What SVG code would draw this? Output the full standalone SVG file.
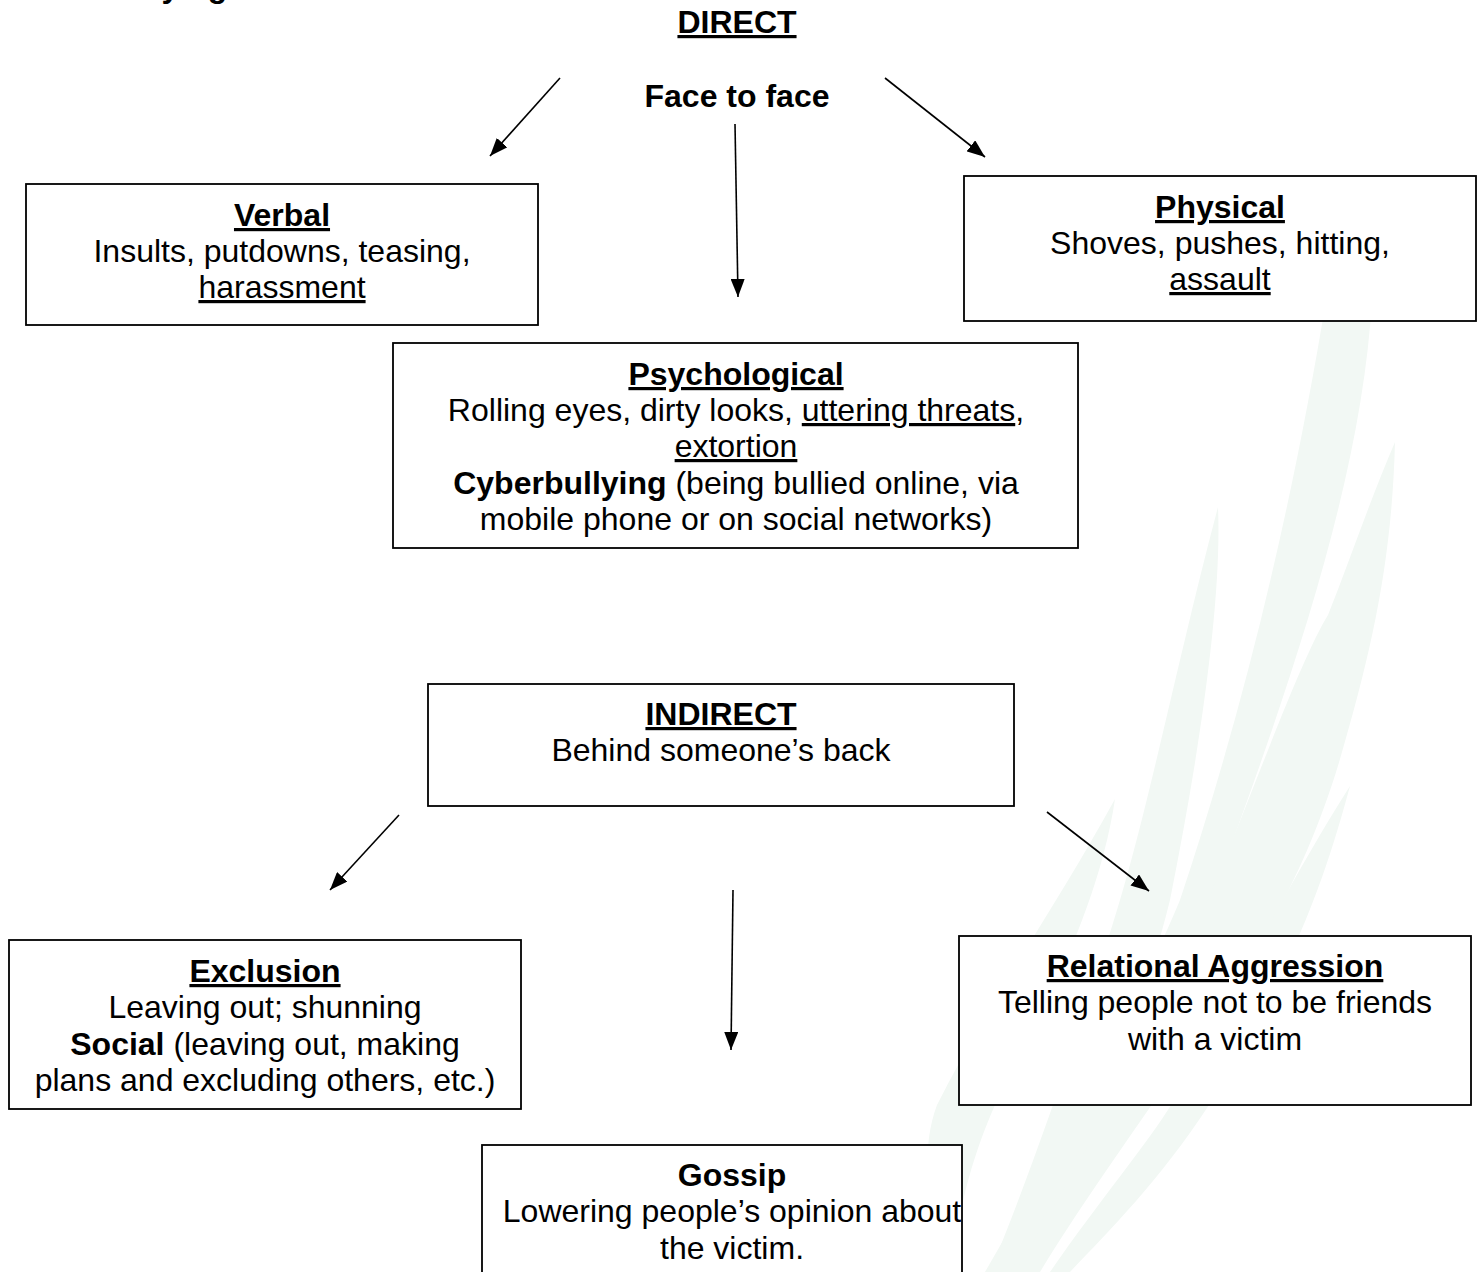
<svg xmlns="http://www.w3.org/2000/svg" width="1482" height="1272" viewBox="0 0 1482 1272">
<style>
text{font-family:"Liberation Sans",Arial,sans-serif;font-size:32px;fill:#000;text-anchor:middle}
.b{font-weight:bold}
.u{text-decoration:underline}
.box{fill:#fff;stroke:#000;stroke-width:1.8}
.con{stroke:#000;stroke-width:1.6;fill:none;marker-end:url(#ah)}
.wm{fill:#f2f8f4}
</style>
<defs>
<marker id="ah" markerUnits="userSpaceOnUse" markerWidth="18" markerHeight="14" viewBox="0 0 18 14" refX="18" refY="7" orient="auto">
<path d="M0,0 L18,7 L0,14 Z" fill="#000"/>
</marker>
</defs>
<rect width="1482" height="1272" fill="#fff"/>
<g id="watermark">
<path class="wm" d="M1326,300 L1372,300 C1362,470 1300,660 1211,900 C1150,1050 1080,1170 1020,1272 L985,1272 C1050,1160 1130,1020 1180,900 C1240,720 1290,520 1326,300 Z"/>
<path class="wm" d="M1395,442 C1392,560 1372,650 1340,759 C1310,860 1270,930 1230,990 C1150,1110 1090,1190 1040,1272 L1015,1272 C1070,1180 1150,1040 1208,900 C1250,800 1300,660 1328,615 C1350,560 1370,500 1395,442 Z"/>
<path class="wm" d="M1218,507 C1222,600 1200,750 1170,900 C1130,1060 1070,1180 1010,1272 L990,1272 C1040,1150 1090,1000 1120,900 C1150,800 1180,650 1218,507 Z"/>
<path class="wm" d="M1350,786 C1330,860 1300,960 1209,1105 C1160,1180 1110,1230 1070,1272 L1050,1272 C1100,1200 1150,1140 1171,1105 C1230,1000 1290,880 1350,786 Z"/>
<path class="wm" d="M1115,799 C1100,900 1050,1000 995,1105 C975,1150 960,1200 950,1272 L930,1272 C930,1200 920,1150 937,1105 C990,1000 1060,900 1115,799 Z"/>
</g>
<g id="title">
<text class="b" x="101" y="-3" style="text-anchor:start">Bullying</text>
<text class="b u" x="737" y="33">DIRECT</text>
<text class="b" x="737" y="107">Face to face</text>
</g>
<g id="connectors">
<line class="con" x1="560" y1="78" x2="490" y2="156"/>
<line class="con" x1="735" y1="124" x2="738" y2="297"/>
<line class="con" x1="885" y1="78" x2="985" y2="157"/>
<line class="con" x1="399" y1="815" x2="330" y2="890"/>
<line class="con" x1="733" y1="890" x2="731" y2="1050"/>
<line class="con" x1="1047" y1="812" x2="1149" y2="891"/>
</g>
<g id="verbal">
<rect class="box" x="26" y="184" width="512" height="141"/>
<text class="b u" x="282" y="226">Verbal</text>
<text x="282" y="262">Insults, putdowns, teasing,</text>
<text class="u" x="282" y="298">harassment</text>
</g>
<g id="physical">
<rect class="box" x="964" y="176" width="512" height="145"/>
<text class="b u" x="1220" y="218">Physical</text>
<text x="1220" y="254">Shoves, pushes, hitting,</text>
<text class="u" x="1220" y="290">assault</text>
</g>
<g id="psychological">
<rect class="box" x="393" y="343" width="685" height="205"/>
<text class="b u" x="736" y="385">Psychological</text>
<text x="736" y="421">Rolling eyes, dirty looks, <tspan class="u">uttering threats</tspan>,</text>
<text class="u" x="736" y="457">extortion</text>
<text x="736" y="494"><tspan class="b">Cyberbullying</tspan> (being bullied online, via</text>
<text x="736" y="530">mobile phone or on social networks)</text>
</g>
<g id="indirect">
<rect class="box" x="428" y="684" width="586" height="122"/>
<text class="b u" x="721" y="725">INDIRECT</text>
<text x="721" y="761">Behind someone’s back</text>
</g>
<g id="exclusion">
<rect class="box" x="9" y="940" width="512" height="169"/>
<text class="b u" x="265" y="982">Exclusion</text>
<text x="265" y="1018">Leaving out; shunning</text>
<text x="265" y="1055"><tspan class="b">Social</tspan> (leaving out, making</text>
<text x="265" y="1091">plans and excluding others, etc.)</text>
</g>
<g id="relational">
<rect class="box" x="959" y="936" width="512" height="169"/>
<text class="b u" x="1215" y="977">Relational Aggression</text>
<text x="1215" y="1013">Telling people not to be friends</text>
<text x="1215" y="1050">with a victim</text>
</g>
<g id="gossip">
<rect class="box" x="482" y="1145" width="480" height="150"/>
<text class="b" x="732" y="1186">Gossip</text>
<text x="732" y="1222">Lowering people’s opinion about</text>
<text x="732" y="1259">the victim.</text>
</g>
</svg>
